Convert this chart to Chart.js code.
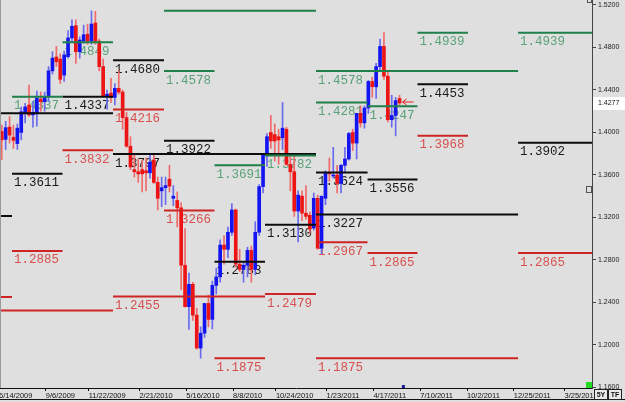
<!DOCTYPE html>
<html>
<head>
<meta charset="utf-8">
<style>
  html,body{margin:0;padding:0;background:#dfdfdf;}
  #wrap{width:625px;height:402px;position:relative;}
  canvas{display:block;}
</style>
<script src="https://cdn.jsdelivr.net/npm/chart.js@4.4.1/dist/chart.umd.min.js"></script>
</head>
<body>
<div id="wrap"><canvas id="chart" width="625" height="402"></canvas></div>
<script>
// weekly candles, first one = week of 6/14/2009
const opens = [1.4010,1.3935,1.4050,1.3955,1.3895,1.4000,1.4185,1.4258,1.4165,1.4185,
  1.4315,1.4290,1.4337,1.4580,1.4710,1.4690,1.4540,1.4714,1.4890,1.5005,
  1.4760,1.4860,1.4925,1.4860,1.5030,1.4860,1.4620,1.4340,1.4370,1.4330,
  1.4415,1.4380,1.4140,1.3870,1.3650,1.3630,1.3650,1.3640,1.3620,1.3740,
  1.3530,1.3450,1.3480,1.3560,1.3380,1.3360,1.3290,1.2750,1.2360,1.2570,
  1.2280,1.1970,1.2110,1.2390,1.2240,1.2560,1.2640,1.2940,1.2900,1.3060,
  1.3270,1.2760,1.2710,1.2750,1.2890,1.2710,1.3060,1.3490,1.3790,1.4000,
  1.3980,1.3960,1.3950,1.4030,1.3700,1.3630,1.3260,1.3400,1.3240,1.3220,
  1.3100,1.3380,1.2910,1.3380,1.3620,1.3590,1.3600,1.3520,1.3690,1.3750,
  1.4000,1.3900,1.4180,1.4090,1.4230,1.4480,1.4430,1.4620,1.4810,1.4530,
  1.4120,1.4160,1.4320];
const highs = [1.4070,1.4105,1.4150,1.4070,1.4080,1.4240,1.4275,1.4447,1.4290,1.4390,
  1.4380,1.4380,1.4620,1.4760,1.4810,1.4740,1.4765,1.4960,1.5060,1.5060,
  1.4900,1.5010,1.5020,1.5144,1.5140,1.4880,1.4690,1.4400,1.4510,1.4460,
  1.4580,1.4400,1.4190,1.3960,1.3790,1.3750,1.3740,1.3760,1.3790,1.3800,
  1.3580,1.3580,1.3580,1.3690,1.3500,1.3440,1.3340,1.3095,1.2675,1.2590,
  1.2345,1.2170,1.2390,1.2470,1.2600,1.2720,1.2990,1.3030,1.3110,1.3330,
  1.3280,1.2900,1.2770,1.2920,1.2930,1.3160,1.3510,1.3800,1.3990,1.4160,
  1.4080,1.4030,1.4282,1.4050,1.3790,1.3790,1.3450,1.3450,1.3500,1.3250,
  1.3430,1.3410,1.3400,1.3640,1.3760,1.3860,1.3690,1.3700,1.3860,1.4000,
  1.4030,1.4180,1.4250,1.4250,1.4490,1.4520,1.4650,1.4880,1.4940,1.4570,
  1.4350,1.4330,1.4350];
const lows = [1.3745,1.3840,1.3900,1.3850,1.3840,1.3930,1.4090,1.4150,1.4050,1.4060,
  1.4200,1.4200,1.4290,1.4550,1.4620,1.4460,1.4480,1.4700,1.4860,1.4650,
  1.4700,1.4840,1.4830,1.4830,1.4830,1.4580,1.4340,1.4220,1.4280,1.4260,
  1.4360,1.4030,1.3860,1.3650,1.3580,1.3530,1.3440,1.3450,1.3570,1.3520,
  1.3270,1.3300,1.3320,1.3440,1.3310,1.3110,1.2520,1.2355,1.2145,1.2230,
  1.1960,1.1875,1.2070,1.2170,1.2150,1.2480,1.2590,1.2760,1.2820,1.3030,
  1.2730,1.2690,1.2590,1.2640,1.2590,1.2660,1.3030,1.3430,1.3680,1.3850,
  1.3730,1.3700,1.3840,1.3690,1.3450,1.3210,1.2969,1.3170,1.3180,1.3050,
  1.3080,1.2900,1.2860,1.3320,1.3540,1.3570,1.3430,1.3430,1.3620,1.3740,
  1.3830,1.3750,1.4050,1.4040,1.4180,1.4330,1.4320,1.4580,1.4500,1.4100,
  1.4050,1.3968,1.4260];
const closes = [1.3930,1.4045,1.3975,1.3925,1.4040,1.4195,1.4240,1.4165,1.4190,1.4325,
  1.4290,1.4335,1.4580,1.4700,1.4665,1.4500,1.4729,1.4890,1.5000,1.4760,
  1.4870,1.4920,1.4860,1.5020,1.4860,1.4620,1.4345,1.4360,1.4330,1.4415,
  1.4380,1.4140,1.3870,1.3675,1.3630,1.3610,1.3610,1.3620,1.3720,1.3530,
  1.3380,1.3480,1.3500,1.3495,1.3400,1.3290,1.2750,1.2360,1.2570,1.2280,
  1.1970,1.2110,1.2390,1.2240,1.2560,1.2640,1.2940,1.2900,1.3060,1.3270,
  1.2760,1.2710,1.2750,1.2890,1.2710,1.3060,1.3490,1.3790,1.3960,1.3920,
  1.3920,1.3930,1.4040,1.3700,1.3630,1.3260,1.3410,1.3240,1.3210,1.3090,
  1.3380,1.2910,1.3400,1.3620,1.3610,1.3600,1.3520,1.3690,1.3750,1.3990,
  1.3900,1.4180,1.4090,1.4230,1.4480,1.4430,1.4620,1.4810,1.4530,1.4120,
  1.4160,1.4300,1.4277];

// x axis ticks (weeks after 6/14/2009)
const tickWeeks = [0,12,23,36,48,60,71,84,96,108,120,132,145];
const tickLabels = ['6/14/2009','9/6/2009','11/22/2009','2/21/2010','5/16/2010','8/8/2010',
  '10/24/2010','1/23/2011','4/17/2011','7/10/2011','10/2/2011','12/25/2011','3/25/2012'];
const priceTicks = [1.16,1.20,1.24,1.28,1.32,1.36,1.40,1.44,1.48,1.52];
const lastPrice = 1.4277;

// pivot levels: [from week, to week, price, label]
const greenLevels = [
  [3.33,16.28,1.4337,'1.4337'],
  [16.28,29.23,1.4849,'1.4849'],
  [42.3,81.28,1.5146,null],
  [42.3,55.25,1.4578,'1.4578'],
  [55.25,68.2,1.3691,'1.3691'],
  [68.2,81.28,1.3782,'1.3782'],
  [81.28,133.1,1.4578,'1.4578'],
  [81.28,94.5,1.4281,'1.4281'],
  [94.5,107.3,1.4247,'1.4247'],
  [107.3,120.25,1.4939,'1.4939'],
  [133.1,152.05,1.4939,'1.4939']
];
const blackLevels = [
  [0.25,29.23,1.4180,null],
  [0.25,3.33,1.3213,null],
  [3.33,16.28,1.3611,'1.3611'],
  [16.28,29.23,1.4337,'1.4337'],
  [29.23,42.3,1.4680,'1.4680'],
  [29.23,81.28,1.3797,'1.3797'],
  [42.3,55.25,1.3922,'1.3922'],
  [55.25,68.2,1.2783,'1.2783'],
  [68.2,81.28,1.3130,'1.3130'],
  [81.28,94.5,1.3624,'1.3624'],
  [81.28,133.1,1.3227,'1.3227'],
  [94.5,107.3,1.3556,'1.3556'],
  [107.3,120.25,1.4453,'1.4453'],
  [133.1,152.05,1.3902,'1.3902']
];
const redLevels = [
  [0.25,3.33,1.2450,null],
  [0.25,29.23,1.2323,null],
  [3.33,16.28,1.2885,'1.2885'],
  [16.28,29.23,1.3832,'1.3832'],
  [29.23,42.3,1.4216,'1.4216'],
  [29.23,68.2,1.2455,'1.2455'],
  [42.3,55.25,1.3266,'1.3266'],
  [55.25,68.2,1.1875,'1.1875'],
  [68.2,81.28,1.2479,'1.2479'],
  [81.28,94.5,1.2967,'1.2967'],
  [81.28,133.1,1.1875,'1.1875'],
  [94.5,107.3,1.2865,'1.2865'],
  [107.3,120.25,1.3968,'1.3968'],
  [133.1,152.05,1.2865,'1.2865']
];

const candleShift = 0.7;
const UP = '#1414f0', DOWN = '#ec1414';
const UP_WICK = '#6a6af0', DOWN_WICK = '#f06a6a';

function levelData(levels){
  const out = [];
  levels.forEach(l=>{
    out.push({x:l[0], y:l[2]}, {x:l[1], y:l[2]}, {x:l[1], y:null});
  });
  return out;
}

const bodies = opens.map((o,i)=>({x:i+candleShift, y:[o, closes[i]]}));
const wicks = opens.map((o,i)=>({x:i+candleShift, y:[lows[i], highs[i]]}));
const isUp = opens.map((o,i)=>closes[i] >= o);

const levelSets = [
  {levels:greenLevels, line:'#1f8049', text:'#5aa279'},
  {levels:blackLevels, line:'#0c0c0c', text:'#1a1a1a'},
  {levels:redLevels, line:'#cf2424', text:'#d85050'}
];

const bgPlugin = {
  id:'bg',
  beforeDraw(chart){
    const c = chart.ctx;
    c.save();
    c.fillStyle = '#dfdfdf';
    c.fillRect(0,0,chart.width,chart.height);
    c.restore();
  }
};

const labelPlugin = {
  id:'levelLabels',
  beforeDatasetsDraw(chart){
    const c = chart.ctx, xs = chart.scales.x, ys = chart.scales.y;
    c.save();
    c.font = '12.5px "Liberation Mono"';
    c.textBaseline = 'alphabetic';
    c.textAlign = 'left';
    levelSets.forEach(set=>{
      c.fillStyle = set.text;
      set.levels.forEach(l=>{
        if(!l[3]) return;
        const px = xs.getPixelForValue(l[0]) + 2;
        const py = ys.getPixelForValue(l[2]) + 12.5;
        c.fillText(l[3], px, py);
      });
    });
    c.restore();
  },
  afterDraw(chart){
    const c = chart.ctx, xs = chart.scales.x, ys = chart.scales.y, a = chart.chartArea;
    c.save();
    // left frame line
    c.strokeStyle = '#9a9a9a';
    c.lineWidth = 1;
    c.beginPath(); c.moveTo(0.5,0); c.lineTo(0.5,a.bottom); c.stroke();
    // bottom frame line
    c.strokeStyle = '#111';
    c.beginPath(); c.moveTo(0,399.5); c.lineTo(625,399.5); c.stroke();

    // current price arrow next to last candle
    const lx = xs.getPixelForValue(closes.length - 1 + candleShift);
    const ly = ys.getPixelForValue(lastPrice) - 1;
    c.strokeStyle = '#e02020';
    c.lineWidth = 1;
    c.beginPath();
    c.moveTo(lx+3, ly); c.lineTo(lx+14, ly);
    c.moveTo(lx+3, ly); c.lineTo(lx+7, ly-3);
    c.moveTo(lx+3, ly); c.lineTo(lx+7, ly+3);
    c.stroke();

    // last price box on the axis
    const py = ys.getPixelForValue(lastPrice);
    c.fillStyle = '#ffffff';
    c.fillRect(a.right+1, py-6, 625-a.right-1, 13);
    c.fillStyle = '#111';
    c.font = '7px "Liberation Sans", Arial';
    c.textBaseline = 'middle';
    c.textAlign = 'left';
    c.fillText(lastPrice.toFixed(4), a.right+6, py+0.5);

    // small markers
    c.fillStyle = '#22dd22';
    c.fillRect(a.right-6, a.bottom-6, 6, 6);
    c.fillStyle = '#1a1a9a';
    c.fillRect(xs.getPixelForValue(103.3), a.bottom-3, 3, 3);
    c.strokeStyle = '#555';
    c.strokeRect(a.right-5.5, 186.5, 5, 6);
    c.strokeRect(a.right-4.5, -0.5, 4, 3);

    // 5Y / TF buttons
    c.font = 'bold 7px "Liberation Sans", Arial';
    c.textAlign = 'center';
    [['5Y',594],['TF',608]].forEach(b=>{
      c.fillStyle = '#e8e8e8';
      c.fillRect(b[1], 389, 13, 11);
      c.strokeStyle = '#222';
      c.strokeRect(b[1]+0.5, 389.5, 13, 10);
      c.fillStyle = '#111';
      c.fillText(b[0], b[1]+7, 395);
    });
    c.restore();
  }
};

const datasets = [];
levelSets.forEach(set=>{
  datasets.push({
    type:'line',
    data:levelData(set.levels),
    borderColor:set.line,
    borderWidth:2,
    pointRadius:0,
    pointHoverRadius:0,
    tension:0,
    spanGaps:false,
    fill:false,
    order:0
  });
});
datasets.push({
  type:'bar',
  data:wicks,
  backgroundColor:isUp.map(u=>u ? UP_WICK : DOWN_WICK),
  barThickness:1,
  grouped:false,
  borderWidth:0,
  order:3
});
datasets.push({
  type:'bar',
  data:bodies,
  backgroundColor:isUp.map(u=>u ? UP : DOWN),
  barThickness:3,
  minBarLength:1,
  grouped:false,
  borderWidth:0,
  order:2
});

new Chart(document.getElementById('chart'), {
  type:'bar',
  data:{datasets},
  plugins:[bgPlugin, labelPlugin],
  options:{
    responsive:false,
    animation:false,
    events:[],
    layout:{padding:0, autoPadding:false},
    plugins:{legend:{display:false}, tooltip:{enabled:false}},
    scales:{
      x:{
        type:'linear',
        position:'bottom',
        min:0.25,
        max:152.05,
        offset:false,
        afterBuildTicks(scale){
          scale.ticks = tickWeeks.map(v=>({value:v}));
        },
        afterFit(scale){
          scale.height = 14;
          scale.paddingLeft = 0;
          scale.paddingRight = 0;
        },
        ticks:{
          autoSkip:false,
          maxRotation:0,
          minRotation:0,
          align:'start',
          padding:0,
          color:'#111',
          font:{family:'"Liberation Sans", Arial', size:7.5},
          callback:(v,i)=>tickLabels[i]
        },
        grid:{drawOnChartArea:false, offset:false, tickLength:3, color:'#111'},
        border:{color:'#111', width:1}
      },
      y:{
        type:'linear',
        position:'right',
        min:1.1594,
        max:1.5247,
        afterBuildTicks(scale){
          scale.ticks = priceTicks.map(v=>({value:v}));
        },
        afterFit(scale){
          scale.width = 33;
          scale.paddingTop = 0;
          scale.paddingBottom = 0;
        },
        ticks:{
          padding:2,
          color:'#222',
          font:{family:'"Liberation Sans", Arial', size:7},
          callback:v=>Number(v).toFixed(4)
        },
        grid:{drawOnChartArea:false, tickLength:4, color:'#444'},
        border:{color:'#444', width:1}
      }
    }
  }
});
</script>
</body>
</html>
